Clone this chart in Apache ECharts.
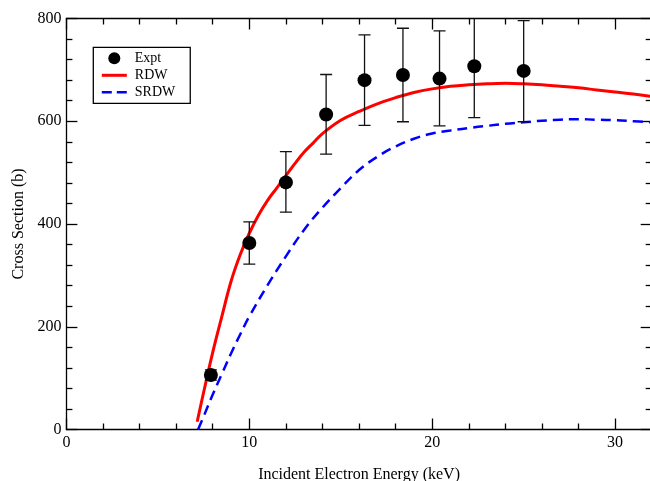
<!DOCTYPE html>
<html>
<head>
<meta charset="utf-8">
<script src="https://cdn.jsdelivr.net/npm/echarts@6/dist/echarts.min.js"></script>
<style>html,body{margin:0;padding:0;background:#fff}#c{width:650px;height:481px}</style>
</head>
<body>
<div id="c"></div>
<script>
// Experimental points
const exptX = [7.9, 10.0, 12.0, 14.2, 16.3, 18.4, 20.4, 22.3, 25.0];
const exptY = [106, 363, 481, 613, 680, 690, 683, 707, 698];
const exptLow = [96, 322, 423, 536, 592, 599, 591, 607, 599];
const exptHigh = [116, 404, 541, 691, 768, 781, 776, 807, 796];
// RDW curve
const rdwX = [7.15, 7.5, 8.0, 8.5, 9.0, 9.5, 10.0, 10.5, 11.0, 11.5, 12.0, 12.5, 13.0, 13.5, 14.0, 15.0, 16.0, 17.0, 18.0, 19.0, 20.0, 21.0, 22.0, 23.0, 24.0, 25.0, 26.0, 27.0, 28.0, 29.0, 30.0, 31.0, 32.0];
const rdwY = [15, 72, 150, 220, 288, 340, 382, 417, 446, 470, 494, 518, 540, 558, 576, 602, 619, 634, 646, 656, 663, 668, 671, 673, 674, 673, 671, 668, 665, 661, 657, 653, 648];
// SRDW curve
const srdwX = [7.2, 7.5, 8.0, 8.5, 9.0, 9.5, 10.0, 11.0, 12.0, 13.0, 14.0, 15.0, 16.0, 17.0, 18.0, 19.0, 20.0, 21.0, 22.0, 23.0, 24.0, 25.0, 26.0, 27.0, 28.0, 29.0, 30.0, 31.0, 32.0];
const srdwY = [0, 25, 68, 108, 148, 185, 220, 281, 337, 389, 432, 470, 505, 531, 551, 566, 576, 582, 587, 591, 595, 598, 601, 603, 604, 603, 602, 600, 598];

const FONT = "'Liberation Serif', 'Times New Roman', serif";
const zip = (a, b) => a.map((v, i) => [v, b[i]]);

const axisCommon = {
  min: 0,
  axisLine: { show: true, onZero: false, lineStyle: { color: '#000', width: 1.3 } },
  axisTick: { show: true, inside: true, length: 11, lineStyle: { color: '#000', width: 1.3 } },
  minorTick: { show: true, splitNumber: 5, length: 6, lineStyle: { color: '#000', width: 1.3 } },
  splitLine: { show: false },
  minorSplitLine: { show: false }
};

const chart = echarts.init(document.getElementById('c'), null, { renderer: 'canvas' });
chart.setOption({
  animation: false,
  backgroundColor: '#fff',
  grid: { left: 66.4, top: 18.5, width: 585.3, height: 411, containLabel: false, outerBoundsMode: 'none' },
  xAxis: [
    Object.assign({}, axisCommon, {
      type: 'value', position: 'bottom', max: 32, interval: 10,
      axisLabel: { show: true, color: '#000', fontFamily: FONT, fontSize: 16, margin: 5, showMaxLabel: false },
      name: 'Incident Electron Energy (keV)', nameLocation: 'middle', nameGap: 37,
      nameTextStyle: { color: '#000', fontFamily: FONT, fontSize: 16 }
    }),
    Object.assign({}, axisCommon, {
      type: 'value', position: 'top', max: 32, interval: 10,
      axisLabel: { show: false }
    })
  ],
  yAxis: [
    Object.assign({}, axisCommon, {
      type: 'value', position: 'left', max: 800, interval: 200,
      axisLabel: { show: true, color: '#000', fontFamily: FONT, fontSize: 16, margin: 5 },
      name: 'Cross Section (b)', nameLocation: 'middle', nameGap: 35, nameRotate: 90,
      nameTextStyle: { color: '#000', fontFamily: FONT, fontSize: 16 }
    }),
    Object.assign({}, axisCommon, {
      type: 'value', position: 'right', max: 800, interval: 200,
      axisLabel: { show: false }
    })
  ],
  legend: {
    left: 93.3, top: 47.3, orient: 'vertical',
    itemWidth: 25, itemHeight: 12, itemGap: 3,
    padding: [4, 15, 4, 7],
    borderColor: '#000', borderWidth: 1.3,
    textStyle: { color: '#000', fontFamily: FONT, fontSize: 14, padding: [0, 0, 0, 3] },
    data: [
      { name: 'Expt', icon: 'circle', itemStyle: { opacity: 1, color: '#000' } },
      { name: 'RDW', itemStyle: { opacity: 0 }, lineStyle: { color: '#ff0000', width: 3, type: 'solid' } },
      { name: 'SRDW', itemStyle: { opacity: 0 }, lineStyle: { color: '#0000ff', width: 2.5, type: [10, 5] } }
    ]
  },
  series: [
    {
      name: 'RDW', type: 'line', xAxisIndex: 0, yAxisIndex: 0,
      data: zip(rdwX, rdwY), smooth: 0.4, showSymbol: false, symbol: 'none',
      lineStyle: { color: '#ff0000', width: 3 }, itemStyle: { color: '#ff0000' }, z: 2
    },
    {
      name: 'SRDW', type: 'line', xAxisIndex: 0, yAxisIndex: 0,
      data: zip(srdwX, srdwY), smooth: 0.4, showSymbol: false, symbol: 'none',
      lineStyle: { color: '#0000ff', width: 2.5, type: [10, 6] }, itemStyle: { color: '#0000ff' }, z: 2
    },
    {
      name: 'err', type: 'custom', xAxisIndex: 0, yAxisIndex: 0, clip: true, z: 3,
      data: exptX.map((x, i) => [x, exptLow[i], exptHigh[i]]),
      renderItem: function (params, api) {
        const lo = api.coord([api.value(0), api.value(1)]);
        const hi = api.coord([api.value(0), api.value(2)]);
        const w = 6;
        const st = { stroke: '#111', lineWidth: 1.3 };
        return {
          type: 'group',
          children: [
            { type: 'line', shape: { x1: lo[0], y1: lo[1], x2: hi[0], y2: hi[1] }, style: st },
            { type: 'line', shape: { x1: lo[0] - w, y1: lo[1], x2: lo[0] + w, y2: lo[1] }, style: st },
            { type: 'line', shape: { x1: hi[0] - w, y1: hi[1], x2: hi[0] + w, y2: hi[1] }, style: st }
          ]
        };
      }
    },
    {
      name: 'Expt', type: 'scatter', xAxisIndex: 0, yAxisIndex: 0,
      data: zip(exptX, exptY), symbol: 'circle', symbolSize: 14,
      itemStyle: { color: '#000', opacity: 1 }, z: 4
    }
  ]
});
</script>
</body>
</html>
